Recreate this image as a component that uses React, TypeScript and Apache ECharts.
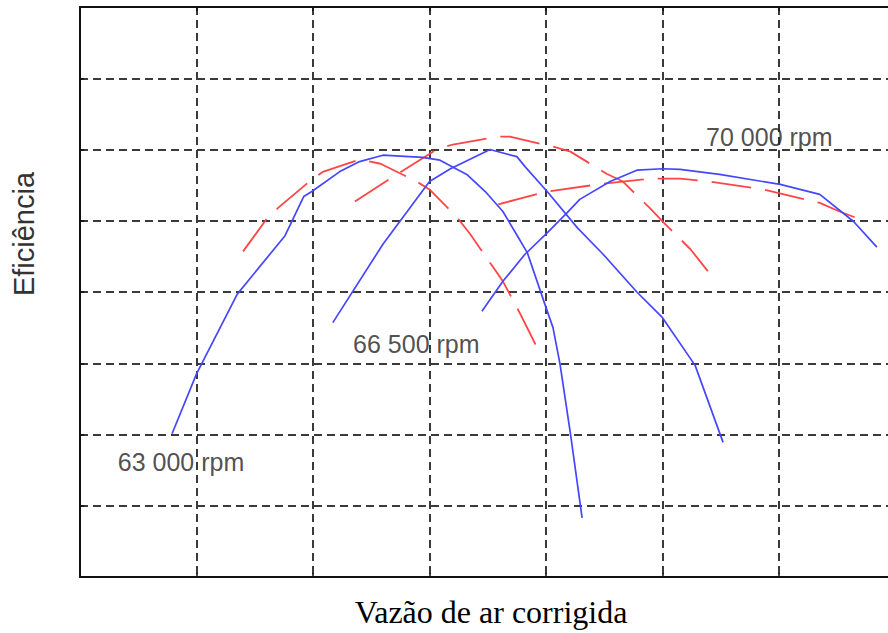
import React, { useEffect, useRef } from 'react';
import * as echarts from 'echarts';

// Axis units are grid cells (no tick labels on the original chart)
const xTicks = [0, 1, 2, 3, 4, 5, 6, 7];
const yTicks = [0, 1, 2, 3, 4, 5, 6, 7, 8];

const blue63000 = [
  [0.79, 2.01], [1.0, 2.85], [1.35, 3.97], [1.76, 4.79], [1.92, 5.34], [1.99, 5.41],
  [2.23, 5.69], [2.4, 5.83], [2.6, 5.92], [2.94, 5.89], [3.09, 5.85], [3.32, 5.65],
  [3.49, 5.39], [3.63, 5.13], [3.75, 4.8], [3.84, 4.55], [3.99, 3.83], [4.06, 3.5],
  [4.12, 2.99], [4.21, 2.01], [4.31, 0.83],
];
const red63000 = [
  [1.4, 4.57], [1.6, 5.02], [1.7, 5.18], [1.99, 5.58], [2.09, 5.69], [2.4, 5.86],
  [2.58, 5.8], [2.89, 5.55], [3.0, 5.44], [3.24, 5.04], [3.35, 4.81], [3.55, 4.34],
  [3.63, 4.15], [3.78, 3.69], [3.85, 3.46], [3.95, 3.13],
];
const blue66500 = [
  [2.17, 3.57], [2.6, 4.67], [3.0, 5.55], [3.18, 5.73], [3.52, 6.0], [3.75, 5.9],
  [3.82, 5.76], [4.01, 5.41], [4.27, 4.9], [4.49, 4.53], [4.78, 4.0], [5.0, 3.64],
  [5.28, 2.97], [5.52, 1.89],
];
const red66500 = [
  [2.36, 5.27], [2.66, 5.59], [2.76, 5.69], [3.06, 6.0], [3.2, 6.07], [3.58, 6.18],
  [3.69, 6.18], [4.06, 6.04], [4.21, 5.97], [4.52, 5.66], [4.66, 5.55], [4.89, 5.18],
  [5.0, 4.99], [5.24, 4.6], [5.39, 4.29],
];
const blue70000 = [
  [3.45, 3.73], [3.63, 4.15], [3.82, 4.53], [4.01, 4.83], [4.18, 5.11], [4.29, 5.3],
  [4.55, 5.55], [4.78, 5.71], [5.0, 5.73], [5.15, 5.72], [5.49, 5.65], [6.01, 5.51],
  [6.35, 5.37], [6.64, 4.99], [6.84, 4.63],
];
const red70000 = [
  [3.59, 5.23], [4.01, 5.41], [4.49, 5.52], [4.89, 5.59], [5.15, 5.59], [5.41, 5.55],
  [5.86, 5.44], [6.35, 5.25], [6.52, 5.13], [6.76, 4.98],
];

const rpmLabels = ['63 000 rpm', '66 500 rpm', '70 000 rpm'];
const labelAnchors = [[0.32, 1.61], [2.34, 3.27], [5.37, 6.17]];

const xTitle = 'Vazão de ar corrigida';
const yTitle = 'Eficiência';

const BLUE = '#4646ff';
const RED = '#ff4646';
const GRID = '#3a3a3a';
const AXIS = '#111';

export default function App() {
  const ref = useRef<HTMLDivElement>(null);
  useEffect(() => {
    const chart = echarts.init(ref.current!, null, { renderer: 'svg' });
    const axisCommon = {
      type: 'value',
      interval: 1,
      axisLine: { show: true, lineStyle: { color: AXIS, width: 2 } },
      axisTick: { show: true, inside: true, length: 4, lineStyle: { color: AXIS, width: 1.5 } },
      axisLabel: { show: false },
    };
    const blueLine = (data: number[][]) => ({
      type: 'line', data, showSymbol: false, symbol: 'none', silent: true,
      lineStyle: { color: BLUE, width: 1.7 }, z: 3,
    });
    const redLine = (data: number[][]) => ({
      type: 'line', data, showSymbol: false, symbol: 'none', silent: true,
      lineStyle: { color: RED, width: 1.8, type: [40, 14] }, z: 2,
    });
    chart.setOption({
      animation: false,
      backgroundColor: '#ffffff',
      // the plot area extends slightly past the 888px page edge (cropped, as in the original)
      grid: { left: 80, top: 7, right: 0.5, bottom: 56 },
      xAxis: [
        {
          ...axisCommon,
          position: 'bottom',
          min: xTicks[0],
          max: xTicks[xTicks.length - 1],
          splitLine: { show: true, lineStyle: { color: GRID, width: 2, type: [8, 5] } },
        },
        {
          ...axisCommon,
          position: 'top',
          min: xTicks[0],
          max: xTicks[xTicks.length - 1],
          splitLine: { show: false },
        },
      ],
      yAxis: {
        ...axisCommon,
        position: 'left',
        min: yTicks[0],
        max: yTicks[yTicks.length - 1],
        splitLine: { show: true, lineStyle: { color: GRID, width: 2, type: [8, 5] } },
      },
      series: [
        redLine(red63000),
        redLine(red66500),
        redLine(red70000),
        blueLine(blue63000),
        blueLine(blue66500),
        blueLine(blue70000),
        {
          type: 'scatter',
          silent: true,
          symbolSize: 1,
          itemStyle: { color: 'rgba(0,0,0,0)' },
          data: labelAnchors.map((p, i) => ({ value: p, name: rpmLabels[i] })),
          label: {
            show: true,
            position: 'right',
            distance: 0,
            formatter: '{b}',
            fontSize: 25,
            fontFamily: '"Liberation Sans", Arial, sans-serif',
            color: '#222',
          },
          z: 5,
        },
      ],
      graphic: [
        {
          type: 'text',
          x: 24,
          y: 234,
          rotation: Math.PI / 2,
          style: {
            text: yTitle,
            fontSize: 29,
            fontFamily: '"Liberation Sans", Arial, sans-serif',
            fill: '#333',
            align: 'center',
            verticalAlign: 'middle',
          },
        },
        {
          type: 'text',
          x: 491,
          y: 612,
          style: {
            text: xTitle,
            fontSize: 32,
            fontFamily: '"Liberation Serif", "Times New Roman", serif',
            fill: '#000',
            align: 'center',
            verticalAlign: 'middle',
          },
        },
      ],
    });
    return () => chart.dispose();
  }, []);
  return (
    <div
      ref={ref}
      style={{ position: 'fixed', left: 0, top: 0, width: 896, height: 633, background: '#fff' }}
    />
  );
}
